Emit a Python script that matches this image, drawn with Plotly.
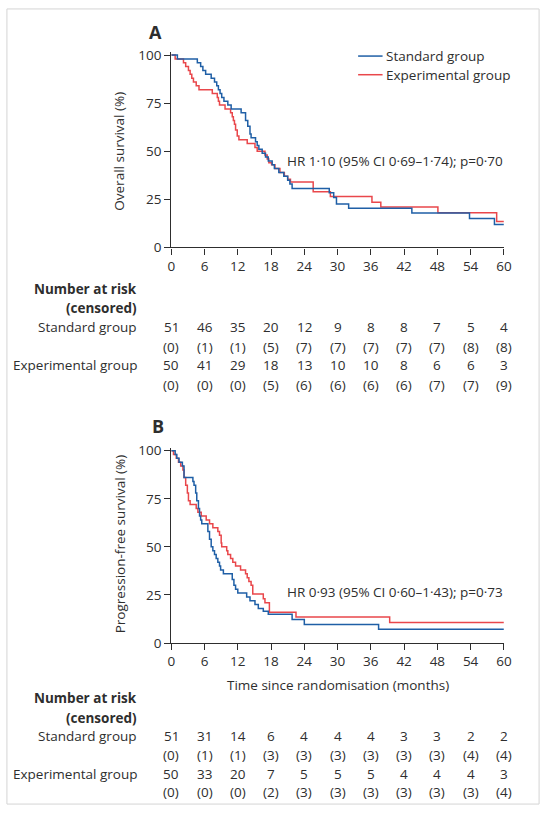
import plotly.graph_objects as go

W, H = 551, 816

# panel A - overall survival (months, %)
os_std_t = [0, 1.1, 4.7, 5.3, 5.7, 6.2, 7.2, 7.8, 8.2, 8.5, 8.8, 9.1, 9.5, 10.2, 10.8, 12.6, 13.4, 13.8, 14.2, 14.4,
            15.2, 15.5, 15.8, 16.4, 17.0, 17.5, 18.2, 18.6, 19.4, 20.3, 21.0, 21.4, 21.8, 28.5, 29.3, 29.8, 32.0, 43.4, 53.8, 58.3, 60]
os_std_s = [100, 98, 96, 94, 92, 90, 88, 86, 84, 82, 80, 78, 76, 74, 72, 70, 66, 63, 59, 57,
            55, 53, 51, 49, 47, 45, 43, 41, 39, 37, 35, 33, 30.6, 28.5, 26, 22.6, 20.4, 17.9, 15, 12, 12]
os_exp_t = [0, 0.7, 2.2, 2.6, 3.1, 3.4, 3.7, 4.0, 4.5, 5.0, 7.4, 8.3, 8.5, 8.7, 9.7, 10.7, 11.0, 11.2, 11.4, 11.6,
            11.9, 12.2, 13.7, 15.1, 15.5, 16.9, 17.3, 17.6, 18.1, 18.7, 19.6, 20.4, 21.0, 21.5, 25.6, 28.7, 36.2, 37.8, 48.1, 58.7, 60]
os_exp_s = [100, 98, 96, 94, 92, 90, 88, 86, 84, 82, 80, 78, 76, 74, 72, 70, 68, 66, 64, 61,
            58, 56, 54, 52, 50, 48, 46, 44, 43, 41, 39, 37, 35.5, 34, 29, 26.5, 23.5, 21, 18, 13.5, 13.5]

# panel B - progression-free survival
pfs_std_t = [0, 0.7, 1.0, 1.4, 2.0, 2.3, 3.9, 4.1, 4.4, 4.6, 4.9, 5.1, 5.3, 5.5, 6.6, 6.9, 7.2, 7.5, 7.8, 8.1,
             8.4, 8.7, 8.9, 9.4, 11.0, 11.3, 11.6, 12.0, 13.6, 14.2, 15.1, 15.7, 16.6, 17.5, 21.8, 24.0, 37.4, 60]
pfs_std_s = [100, 98, 96, 94, 92, 86, 84, 82, 78, 74, 70, 66, 64, 62, 58, 54, 50, 48, 46, 44,
             42, 40, 38, 36, 33, 30, 28, 26, 24, 22, 20, 18, 16.5, 15, 12.3, 9.7, 7.2, 7.2]
pfs_exp_t = [0, 0.4, 0.9, 1.3, 1.7, 2.1, 2.3, 2.6, 2.9, 3.1, 3.4, 4.5, 4.8, 5.4, 6.3, 6.9, 7.5, 8.4, 8.7, 9.0,
             9.1, 10.0, 10.2, 10.7, 11.1, 11.6, 12.5, 13.4, 13.7, 14.0, 14.4, 14.7, 16.6, 16.9, 17.7, 22.5, 39.4, 60]
pfs_exp_s = [100, 98, 96, 94, 92, 90, 86, 82, 78, 74, 72, 70, 68, 66, 64, 62, 60, 58, 56, 52,
             50, 48, 46, 44, 42, 40, 38, 36, 34, 32, 30, 25.5, 23, 21, 16, 13.5, 10.7, 10.7]

risk_months = [0, 6, 12, 18, 24, 30, 36, 42, 48, 54, 60]
os_std_risk = [51, 46, 35, 20, 12, 9, 8, 8, 7, 5, 4]
os_std_cens = [0, 1, 1, 5, 7, 7, 7, 7, 7, 8, 8]
os_exp_risk = [50, 41, 29, 18, 13, 10, 10, 8, 6, 6, 3]
os_exp_cens = [0, 0, 0, 5, 6, 6, 6, 6, 7, 7, 9]
pfs_std_risk = [51, 31, 14, 6, 4, 4, 4, 3, 3, 2, 2]
pfs_std_cens = [0, 1, 1, 3, 3, 3, 3, 3, 3, 4, 4]
pfs_exp_risk = [50, 33, 20, 7, 5, 5, 5, 4, 4, 4, 3]
pfs_exp_cens = [0, 0, 0, 2, 3, 3, 3, 3, 3, 3, 4]

BLUE = '#1f5fa6'
RED = '#e9474b'
TXT = '#2e2e2e'
FONT = 'Open Sans'
FS = 13.5

def fx(px):
    return px / W

def fy(py):
    return 1 - py / H

YMAX = 101.5
def ydom(py0, py100):
    top = py0 - (py0 - py100) * YMAX / 100
    return [fy(py0), fy(top)]

fig = go.Figure()

panels = [
    ('x', 'y', os_std_t, os_std_s, os_exp_t, os_exp_s),
    ('x2', 'y2', pfs_std_t, pfs_std_s, pfs_exp_t, pfs_exp_s),
]
for xa, ya, st, ss, et, es in panels:
    fig.add_trace(go.Scatter(x=et, y=es, mode='lines', line=dict(color=RED, width=1.5, shape='hv'),
                             xaxis=xa, yaxis=ya, showlegend=False))
    fig.add_trace(go.Scatter(x=st, y=ss, mode='lines', line=dict(color=BLUE, width=1.5, shape='hv'),
                             xaxis=xa, yaxis=ya, showlegend=False))

axis_style = dict(showline=True, linecolor=TXT, linewidth=1.3, ticks='outside', ticklen=6, tickwidth=1.1,
                  tickcolor=TXT, showgrid=False, zeroline=False, tickfont=dict(size=FS, color=TXT, family=FONT))

fig.update_layout(
    width=W, height=H,
    margin=dict(l=0, r=0, t=0, b=0),
    paper_bgcolor='white', plot_bgcolor='white',
    font=dict(family=FONT, size=FS, color=TXT),
    xaxis=dict(domain=[fx(171), fx(511)], range=[0, 60], tickvals=risk_months, anchor='y', **axis_style),
    yaxis=dict(domain=ydom(246, 50), range=[0, YMAX], tickvals=[0, 25, 50, 75, 100], anchor='x', **axis_style),
    xaxis2=dict(domain=[fx(171), fx(511)], range=[0, 60], tickvals=risk_months, anchor='y2', **axis_style),
    yaxis2=dict(domain=ydom(649, 453), range=[0, YMAX], tickvals=[0, 25, 50, 75, 100], anchor='x2', **axis_style),
)

ann = []
def txt(x, y, s, xref='paper', xanchor='center', size=FS, bold=False, angle=0):
    if bold:
        s = '<b>' + s + '</b>'
    ann.append(dict(x=x, y=y, xref=xref, yref='paper', text=s, showarrow=False, xanchor=xanchor,
                    yanchor='middle', textangle=angle, font=dict(size=size, color=TXT, family=FONT)))

# panel letters
txt(fx(155), fy(26), 'A', size=18, bold=True)
txt(fx(157), fy(428), 'B', size=18, bold=True)

# axis titles
txt(fx(118), fy(148), 'Overall survival (%)', angle=-90)
txt(fx(118), fy(548), 'Progression-free survival (%)', angle=-90)
txt(fx(341), fy(692), 'Time since randomisation (months)')

# HR text
txt(fx(512), fy(158), 'HR 1·10 (95% CI 0·69–1·74); p=0·70', xanchor='right')
txt(fx(512), fy(597), 'HR 0·93 (95% CI 0·60–1·43); p=0·73', xanchor='right')

# legend
shapes = []
for py, col, lab in [(51, BLUE, 'Standard group'), (70, RED, 'Experimental group')]:
    shapes.append(dict(type='line', xref='paper', yref='paper', x0=fx(362), x1=fx(387), y0=fy(py), y1=fy(py),
                       line=dict(color=col, width=1.5)))
    txt(fx(388), fy(py), lab, xanchor='left')

# number at risk tables
tables = [
    ('x', [288, 308, 327, 347, 366, 386], os_std_risk, os_std_cens, os_exp_risk, os_exp_cens),
    ('x2', [705, 725, 744, 763, 782, 801], pfs_std_risk, pfs_std_cens, pfs_exp_risk, pfs_exp_cens),
]
for xr, rows, sr, sc, er, ec in tables:
    txt(fx(138), fy(rows[0]), 'Number at risk', xanchor='right', bold=True)
    txt(fx(138), fy(rows[1]), '(censored)', xanchor='right', bold=True)
    txt(fx(138), fy(rows[2]), 'Standard group', xanchor='right')
    txt(fx(138), fy(rows[4]), 'Experimental group', xanchor='right')
    for i, m in enumerate(risk_months):
        txt(m, fy(rows[2]), str(sr[i]), xref=xr)
        txt(m, fy(rows[3]), '(' + str(sc[i]) + ')', xref=xr)
        txt(m, fy(rows[4]), str(er[i]), xref=xr)
        txt(m, fy(rows[5]), '(' + str(ec[i]) + ')', xref=xr)

# outer frame
shapes.append(dict(type='rect', xref='paper', yref='paper', x0=fx(3), x1=fx(547), y0=fy(813), y1=fy(3),
                   line=dict(color='#d4d4d4', width=1)))

fig.update_layout(annotations=ann, shapes=shapes)

fig.write_html("out.html", config={'displayModeBar': False},
               post_script="document.body.style.margin='0px';")
